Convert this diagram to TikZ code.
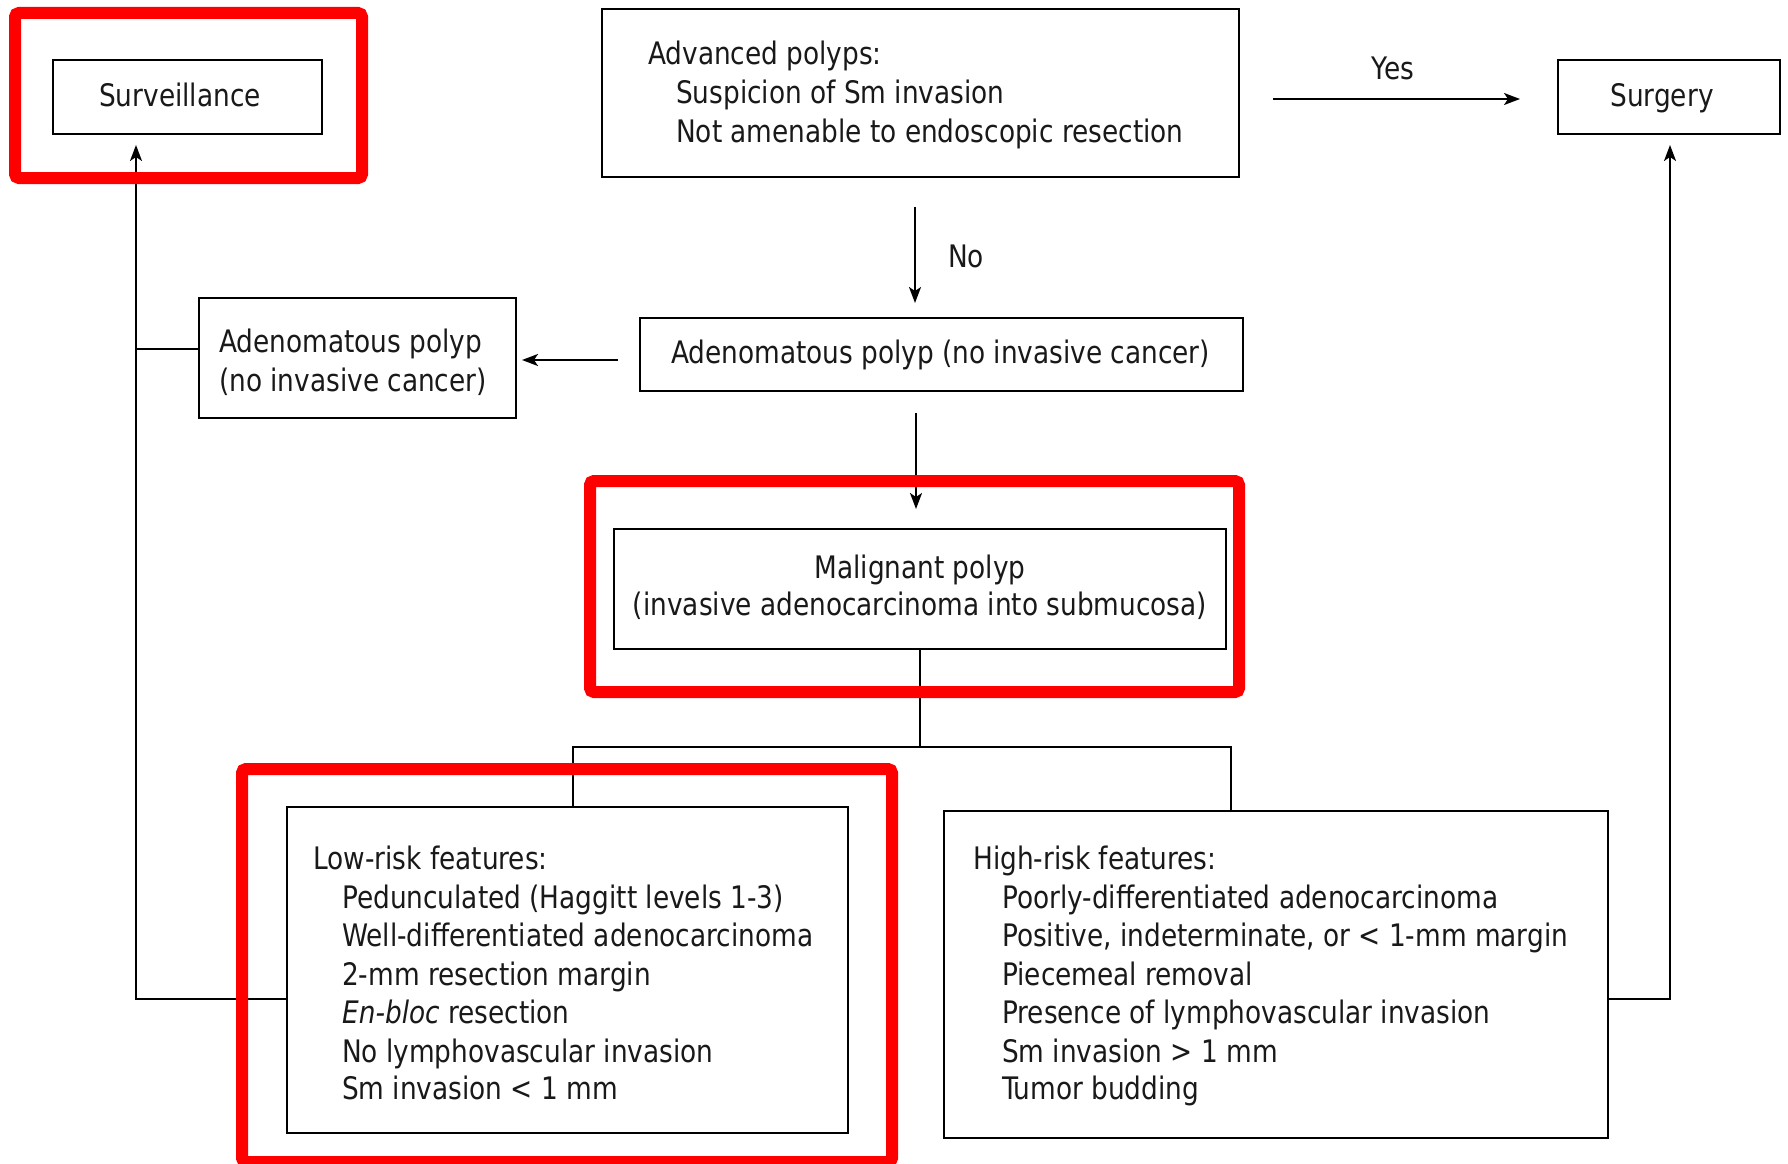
\documentclass[tikz,border=0pt]{standalone}
\usepackage{fontspec}
\setmainfont{DejaVu Sans Condensed}[FakeStretch=0.945]
\usetikzlibrary{arrows.meta,calc}
\begin{document}
\begin{tikzpicture}[x=1pt,y=-1pt,
  fbox/.style={draw, line width=2pt, rectangle, inner sep=0pt},
  ln/.style={line width=2pt},
  arr/.style={line width=2pt, -{Stealth[length=16pt,width=12pt,inset=4pt]}},
  txt/.style={inner sep=0pt, anchor=base west, font=\fontsize{31pt}{38pt}\selectfont, text=black!90},
  ctxt/.style={inner sep=0pt, anchor=base, font=\fontsize{31pt}{38pt}\selectfont, text=black!90},
  redbox/.style={draw=red, line width=12pt, rounded corners=4pt}]
\useasboundingbox (0,0) rectangle (1788,1164);
\fill[white] (0,0) rectangle (1788,1164);

% boxes
\node[fbox, minimum width=269pt, minimum height=74pt] (surv) at (187.5,97) {};
\node[fbox, minimum width=637pt, minimum height=168pt] (adv) at (920.5,93) {};
\node[fbox, minimum width=222pt, minimum height=74pt] (surg) at (1669,97) {};
\node[fbox, minimum width=317pt, minimum height=120pt] (left) at (357.5,358) {};
\node[fbox, minimum width=603pt, minimum height=73pt] (mid) at (941.5,354.5) {};
\node[fbox, minimum width=612pt, minimum height=120pt] (malig) at (920,589) {};
\node[fbox, minimum width=561pt, minimum height=326pt] (low) at (567.5,970) {};
\node[fbox, minimum width=664pt, minimum height=327pt] (high) at (1276,974.5) {};

% texts
\node[ctxt] (tsurv) at (180,106) {Surveillance};
\node[ctxt] (tsurg) at (1662,106) {Surgery};
\node[txt] (a0) at (648,65) {Advanced polyps:};
\node[txt] (a1) at (676,103) {Suspicion of Sm invasion};
\node[txt] (a2) at (676,142) {Not amenable to endoscopic resection};
\node[ctxt] (yes) at (1393,79) {Yes};
\node[txt] (no) at (948,267) {No};
\node[txt] (l0) at (219,352) {Adenomatous polyp};
\node[txt] (l1) at (219,391) {(no invasive cancer)};
\node[txt] (m0) at (671,363) {Adenomatous polyp (no invasive cancer)};
\node[ctxt] (g0) at (920,578) {Malignant polyp};
\node[ctxt] (g1) at (920,615) {(invasive adenocarcinoma into submucosa)};
\node[txt] (lr0) at (313,869) {Low-risk features:};
\node[txt] (lr1) at (342,908) {Pedunculated (Haggitt levels 1-3)};
\node[txt] (lr2) at (342,946) {Well-differentiated adenocarcinoma};
\node[txt] (lr3) at (342,985) {2-mm resection margin};
\node[txt] (lr4) at (342,1023) {\textit{En-bloc} resection};
\node[txt] (lr5) at (342,1062) {No lymphovascular invasion};
\node[txt] (lr6) at (342,1099) {Sm invasion < 1 mm};
\node[txt] (hr0) at (973,869) {High-risk features:};
\node[txt] (hr1) at (1002,908) {Poorly-differentiated adenocarcinoma};
\node[txt] (hr2) at (1002,946) {Positive, indeterminate, or < 1-mm margin};
\node[txt] (hr3) at (1002,985) {Piecemeal removal};
\node[txt] (hr4) at (1002,1023) {Presence of lymphovascular invasion};
\node[txt] (hr5) at (1002,1062) {Sm invasion > 1 mm};
\node[txt] (hr6) at (1002,1099) {Tumor budding};

% helper coordinates
\coordinate (yy) at (0,99);
\coordinate (nox) at (915,0);
\coordinate (ay) at (0,360);
\coordinate (mx) at (916,0);
\coordinate (br) at (920,747);
\coordinate (lx) at (573,0);
\coordinate (hx) at (1231,0);
\coordinate (ly) at (0,999);
\coordinate (sx) at (136,0);
\coordinate (jy) at (0,349);
\coordinate (gx) at (1670,0);

% connectors
\draw[arr, shorten <=33pt, shorten >=37pt] (adv.east |- yy) -- (surg.west |- yy);
\draw[arr, shorten <=29pt, shorten >=14pt] (adv.south -| nox) -- (mid.north -| nox);
\draw[arr, shorten <=21pt, shorten >=5pt] (mid.west |- ay) -- (left.east |- ay);
\draw[arr, shorten <=21pt, shorten >=19pt] (mid.south -| mx) -- (malig.north -| mx);
\draw[ln] (malig.south -| br) -- (br);
\draw[ln] (low.north -| lx) |- (br) -| (high.north -| hx);
\draw[arr, shorten >=10pt] (low.west |- ly) -| (surv.south -| sx);
\draw[ln] (left.west |- jy) -- (sx |- jy);
\draw[arr, shorten >=10pt] (high.east |- ly) -| (surg.south -| gx);

% red highlight frames
\draw[redbox] (15,13) rectangle (362,178);
\draw[redbox] (590,481) rectangle (1239,692);
\draw[redbox] (242,769) rectangle (892,1162);
\end{tikzpicture}
\end{document}
